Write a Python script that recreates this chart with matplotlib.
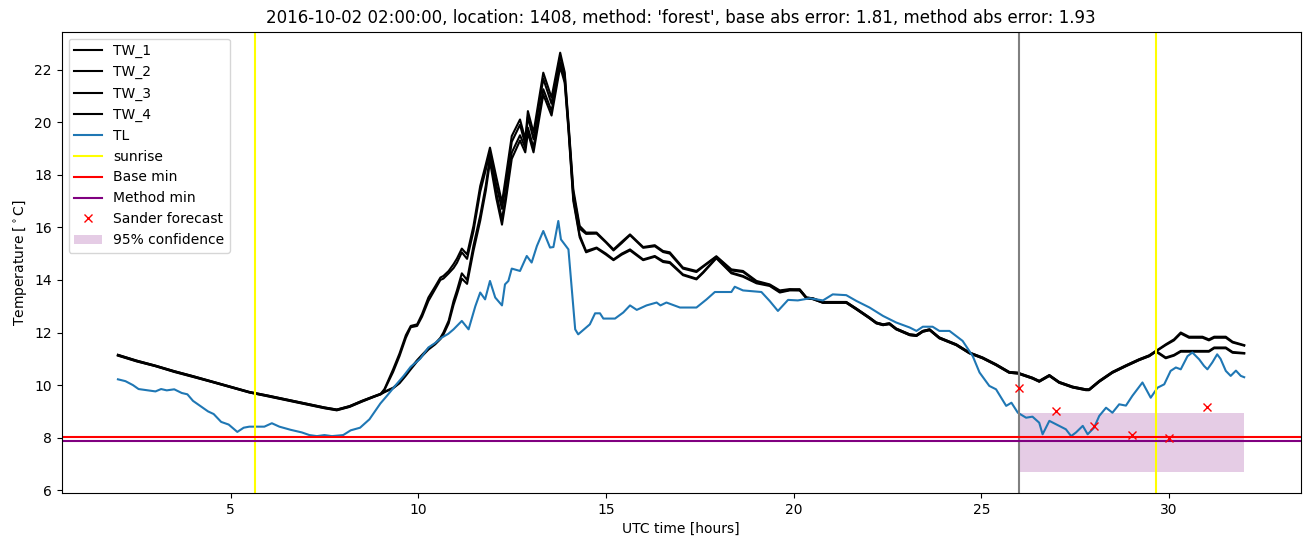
import matplotlib
matplotlib.use("Agg")
import matplotlib.pyplot as plt
import numpy as np

## Time grid shared by the four water temperature sensors (hours UTC)
tw_hours = [2.0, 2.5, 3.0, 3.5, 4.0, 4.5, 5.0, 5.5, 6.0, 6.5, 7.0, 7.5, 7.83, 8.17, 8.5, 8.83,
            9.0, 9.1, 9.33, 9.5, 9.67, 9.8, 9.97, 10.1, 10.27, 10.45, 10.59, 10.67, 10.81, 10.94,
            11.03, 11.16, 11.3, 11.47, 11.65, 11.8, 11.91, 12.08, 12.23, 12.33, 12.49, 12.71,
            12.85, 12.92, 13.07, 13.33, 13.55, 13.78, 13.9, 14.0, 14.13, 14.3, 14.47, 14.75,
            15.0, 15.2, 15.42, 15.64, 15.99, 16.3, 16.52, 16.7, 17.05, 17.41, 17.59, 17.94,
            18.34, 18.65, 19.01, 19.36, 19.63, 19.89, 20.16, 20.34, 20.51, 20.78, 21.4, 21.67,
            22.02, 22.2, 22.38, 22.55, 22.73, 23.09, 23.27, 23.44, 23.62, 23.88, 24.33, 24.68,
            25.03, 25.39, 25.74, 25.97, 26.36, 26.54, 26.81, 27.07, 27.43, 27.78, 27.87, 28.14,
            28.49, 28.85, 29.2, 29.47, 29.65, 29.91, 30.13, 30.31, 30.53, 30.89, 31.06, 31.2,
            31.51, 31.69, 32.0]

tw_1 = [11.15, 10.93, 10.74, 10.53, 10.34, 10.14, 9.94, 9.74, 9.6, 9.45, 9.3, 9.15, 9.07, 9.2, 9.4, 9.58,
        9.67, 9.85, 10.6, 11.2, 11.9, 12.25, 12.31, 12.7, 13.33, 13.75, 14.09, 14.15, 14.34, 14.6,
        14.81, 15.19, 14.97, 16.05, 17.57, 18.4, 19.03, 17.9, 16.94, 17.9, 19.47, 20.1,
        19.35, 20.42, 19.6, 21.88, 20.93, 22.64, 21.9, 20.0, 17.44, 16.05, 15.8, 15.8,
        15.45, 15.16, 15.45, 15.73, 15.25, 15.32, 15.1, 15.05, 14.47, 14.34, 14.53, 14.9,
        14.4, 14.34, 13.96, 13.83, 13.6, 13.65, 13.64, 13.33, 13.3, 13.16, 13.16, 12.91,
        12.57, 12.38, 12.31, 12.35, 12.15, 11.93, 11.9, 12.06, 12.12, 11.81, 11.55, 11.24,
        11.05, 10.79, 10.5, 10.47, 10.28, 10.16, 10.38, 10.12, 9.94, 9.84, 9.84, 10.16,
        10.5, 10.75, 10.98, 11.13, 11.3, 11.55, 11.74, 12.0, 11.84, 11.84, 11.74, 11.84,
        11.84, 11.65, 11.52]

tw_2 = [11.12, 10.9, 10.72, 10.5, 10.31, 10.12, 9.92, 9.72, 9.57, 9.42, 9.27, 9.12, 9.04, 9.17, 9.37, 9.56,
        9.65, 9.82, 10.5, 11.1, 11.8, 12.2, 12.25, 12.6, 13.2, 13.65, 14.0, 14.05, 14.25, 14.45,
        14.65, 15.05, 14.8, 15.85, 17.35, 18.2, 18.85, 17.6, 16.7, 17.6, 19.25, 19.9,
        19.15, 20.2, 19.35, 21.65, 20.7, 22.5, 21.8, 19.9, 17.3, 15.95, 15.75, 15.76,
        15.42, 15.12, 15.4, 15.7, 15.22, 15.28, 15.06, 15.0, 14.43, 14.3, 14.5, 14.88,
        14.36, 14.3, 13.93, 13.8, 13.57, 13.62, 13.6, 13.3, 13.27, 13.13, 13.13, 12.88,
        12.54, 12.35, 12.28, 12.32, 12.12, 11.9, 11.87, 12.03, 12.09, 11.78, 11.52, 11.21,
        11.02, 10.76, 10.47, 10.44, 10.25, 10.13, 10.35, 10.09, 9.91, 9.81, 9.81, 10.13,
        10.47, 10.72, 10.95, 11.1, 11.28, 11.52, 11.7, 11.96, 11.8, 11.8, 11.7, 11.8,
        11.8, 11.62, 11.5]

tw_3 = [11.15, 10.93, 10.74, 10.53, 10.34, 10.14, 9.94, 9.74, 9.6, 9.45, 9.3, 9.15, 9.07, 9.2, 9.4, 9.58,
        9.67, 9.75, 9.9, 10.1, 10.4, 10.65, 10.95, 11.15, 11.4, 11.58, 11.8, 12.0, 12.45, 13.2,
        13.6, 14.25, 14.0, 15.3, 16.45, 17.6, 18.7, 17.3, 16.3, 17.2, 18.84, 19.5,
        19.03, 19.79, 19.03, 21.25, 20.42, 22.26, 21.6, 19.8, 17.1, 15.7, 15.1, 15.23,
        15.0, 14.78, 15.0, 15.16, 14.78, 14.91, 14.72, 14.68, 14.21, 14.05, 14.3, 14.85,
        14.28, 14.15, 13.9, 13.8, 13.55, 13.62, 13.64, 13.33, 13.3, 13.16, 13.16, 12.91,
        12.57, 12.38, 12.31, 12.35, 12.15, 11.93, 11.9, 12.06, 12.12, 11.81, 11.55, 11.24,
        11.05, 10.79, 10.5, 10.47, 10.28, 10.16, 10.38, 10.12, 9.94, 9.84, 9.84, 10.16,
        10.5, 10.75, 10.98, 11.13, 11.3, 11.05, 11.15, 11.3, 11.3, 11.3, 11.3, 11.43,
        11.43, 11.26, 11.22]

tw_4 = [11.13, 10.91, 10.72, 10.51, 10.32, 10.12, 9.92, 9.72, 9.58, 9.43, 9.28, 9.13, 9.05, 9.18, 9.38, 9.56,
        9.65, 9.73, 9.88, 10.07, 10.36, 10.6, 10.9, 11.1, 11.35, 11.55, 11.75, 11.92, 12.35, 13.05,
        13.45, 14.05, 13.85, 15.1, 16.25, 17.4, 18.5, 17.1, 16.1, 17.0, 18.6, 19.3,
        18.85, 19.6, 18.85, 21.05, 20.25, 22.1, 21.5, 19.7, 17.0, 15.62, 15.05, 15.2,
        14.96, 14.75, 14.96, 15.12, 14.75, 14.88, 14.68, 14.64, 14.18, 14.02, 14.27, 14.82,
        14.25, 14.12, 13.87, 13.77, 13.52, 13.6, 13.61, 13.3, 13.27, 13.13, 13.13, 12.88,
        12.54, 12.35, 12.28, 12.32, 12.12, 11.9, 11.87, 12.03, 12.09, 11.78, 11.52, 11.21,
        11.02, 10.76, 10.47, 10.44, 10.25, 10.13, 10.35, 10.09, 9.91, 9.81, 9.81, 10.13,
        10.47, 10.72, 10.95, 11.1, 11.27, 11.02, 11.12, 11.27, 11.27, 11.27, 11.27, 11.4,
        11.4, 11.23, 11.2]

## Air temperature (TL)
tl_hours = [2.0, 2.2, 2.4, 2.55, 2.8, 3.0, 3.15, 3.3, 3.5, 3.7, 3.85, 4.0, 4.2, 4.4, 4.55, 4.75,
            4.95, 5.18, 5.35, 5.5, 5.9, 6.1, 6.3, 6.6, 6.9, 7.1, 7.3, 7.5, 7.7, 8.0, 8.2, 8.45,
            8.7, 8.99, 9.17, 9.4, 9.61, 9.8, 10.05, 10.27, 10.45, 10.63, 10.8, 10.94, 11.16,
            11.34, 11.52, 11.65, 11.78, 11.91, 12.05, 12.23, 12.31, 12.4, 12.49, 12.71, 12.89,
            13.02, 13.16, 13.33, 13.51, 13.6, 13.73, 13.8, 14.0, 14.18, 14.26, 14.57, 14.71,
            14.84, 14.93, 15.24, 15.46, 15.64, 15.82, 16.08, 16.35, 16.45, 16.61, 16.97, 17.41,
            17.68, 17.9, 18.34, 18.43, 18.65, 19.14, 19.36, 19.58, 19.85, 20.11, 20.43, 20.78,
            21.04, 21.4, 21.67, 22.02, 22.38, 22.73, 23.09, 23.27, 23.44, 23.7, 23.88, 24.15,
            24.5, 24.77, 24.95, 25.21, 25.39, 25.66, 25.8, 25.97, 26.19, 26.36, 26.54, 26.63,
            26.81, 26.99, 27.25, 27.39, 27.52, 27.7, 27.83, 28.0, 28.14, 28.32, 28.49, 28.67,
            28.85, 29.02, 29.29, 29.51, 29.69, 29.87, 30.04, 30.18, 30.31, 30.49, 30.62, 30.8,
            30.93, 31.02, 31.15, 31.28, 31.37, 31.51, 31.64, 31.78, 31.91, 32.0]

tl = [10.22, 10.15, 10.0, 9.85, 9.8, 9.76, 9.85, 9.8, 9.84, 9.7, 9.65, 9.4, 9.2, 9.0, 8.9, 8.6,
      8.5, 8.22, 8.38, 8.42, 8.42, 8.55, 8.42, 8.3, 8.2, 8.1, 8.06, 8.1, 8.06, 8.1, 8.28, 8.38,
      8.7, 9.3, 9.6, 10.0, 10.35, 10.7, 11.0, 11.43, 11.6, 11.81, 11.95, 12.12, 12.44,
      12.12, 13.0, 13.52, 13.26, 13.96, 13.33, 13.03, 13.83, 13.96, 14.43, 14.34, 14.91,
      14.66, 15.29, 15.86, 15.23, 15.25, 16.24, 15.54, 15.16, 12.12, 11.93, 12.31, 12.73,
      12.73, 12.53, 12.53, 12.76, 13.03, 12.86, 13.03, 13.14, 13.03, 13.14, 12.95, 12.95,
      13.26, 13.54, 13.54, 13.74, 13.6, 13.54, 13.2, 12.82, 13.24, 13.22, 13.3, 13.22,
      13.45, 13.42, 13.2, 12.95, 12.63, 12.38, 12.19, 12.06, 12.22, 12.22, 12.06, 12.06,
      11.68, 11.1, 10.48, 9.97, 9.84, 9.21, 9.33, 8.95, 8.76, 8.8, 8.57, 8.13,
      8.64, 8.51, 8.32, 8.06, 8.2, 8.45, 8.13, 8.38, 8.83, 9.14, 8.95, 9.27,
      9.22, 9.59, 10.1, 9.52, 9.9, 10.03, 10.54, 10.67, 10.6, 11.1, 11.24, 10.98,
      10.73, 10.6, 10.86, 11.17, 11.0, 10.54, 10.35, 10.55, 10.35, 10.3]

## Events and forecast
sunrise_hours = [5.66, 29.65]
forecast_start = 26.0
base_min = 8.03
method_min = 7.87
sander_hours = [26, 27, 28, 29, 30, 31]
sander_forecast = [9.9, 9.02, 8.45, 8.09, 8.0, 9.18]
conf_hours = [26, 32]
conf_low = [6.7, 6.7]
conf_high = [8.95, 8.95]

title = ("2016-10-02 02:00:00, location: 1408, method: 'forest', "
         "base abs error: 1.81, method abs error: 1.93")


def main():
    fig = plt.figure(figsize=(13.11, 5.47), dpi=100)
    ax = fig.add_axes([0.047, 0.099, 0.945, 0.843])

    ax.plot(tw_hours, tw_1, color="black", label="TW_1")
    ax.plot(tw_hours, tw_2, color="black", label="TW_2")
    ax.plot(tw_hours, tw_3, color="black", label="TW_3")
    ax.plot(tw_hours, tw_4, color="black", label="TW_4")
    ax.plot(tl_hours, tl, color="C0", label="TL")

    for i, sr in enumerate(sunrise_hours):
        ax.axvline(sr, color="yellow", label="sunrise" if i == 0 else None)
    ax.axvline(forecast_start, color="gray")

    ax.axhline(base_min, color="red", label="Base min")
    ax.axhline(method_min, color="purple", label="Method min")
    ax.plot(sander_hours, sander_forecast, "x", color="red", linestyle="none",
            label="Sander forecast")
    ax.fill_between(conf_hours, conf_low, conf_high, color="purple", alpha=0.2,
                    linewidth=0, label="95% confidence")

    ax.set_title(title)
    ax.set_xlabel("UTC time [hours]")
    ax.set_ylabel("Temperature [$^\\circ$C]")
    ax.legend(loc="upper left")

    fig.savefig("out.png", dpi=100)


if __name__ == "__main__":
    main()
